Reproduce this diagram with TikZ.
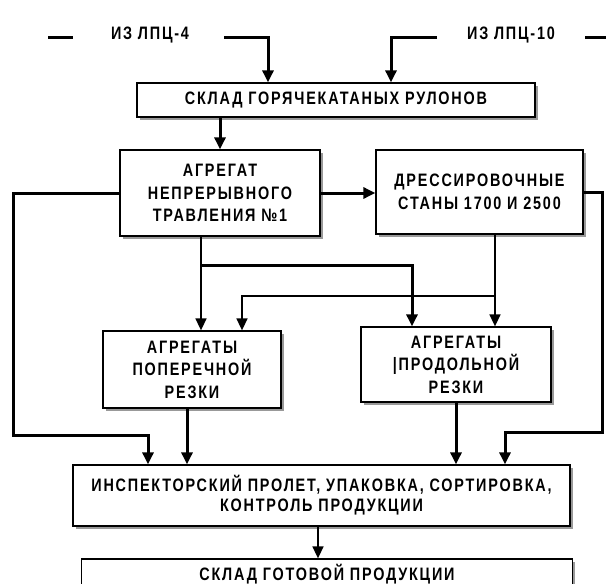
\documentclass[tikz,border=0pt]{standalone}
\usepackage{fontspec}
\newfontfamily\lbl{Liberation Sans Bold}[FakeStretch=0.8,LetterSpace=10]
\usetikzlibrary{arrows.meta,shadows}
\tikzset{
  box/.style={draw, line width=1.3pt, fill=white, inner sep=0pt, align=center,
    font=\lbl\fontsize{18}{22.5}\selectfont,
    drop shadow={shadow xshift=2.5pt, shadow yshift=-2.5pt, fill=gray!80, opacity=1}},
  lbltext/.style={inner sep=0pt, font=\lbl\fontsize{18}{22}\selectfont},
  thickln/.style={line width=3pt},
  thinln/.style={line width=1.6pt},
  arr/.style={-{Triangle[width=11pt,length=12pt]}},
}
\begin{document}
\begin{tikzpicture}[x=1pt,y=-1pt]
\useasboundingbox (0,0) rectangle (606,584);
% boxes
\node[box, minimum width=398pt, minimum height=34pt] (b1) at (336,100) {СКЛАД ГОРЯЧЕКАТАНЫХ РУЛОНОВ};
\node[box, minimum width=200pt, minimum height=86pt] (b2) at (220,193) {АГРЕГАТ\\НЕПРЕРЫВНОГО\\ТРАВЛЕНИЯ №1};
\node[box, minimum width=207pt, minimum height=84pt] (b3) at (479.5,192) {ДРЕССИРОВОЧНЫЕ\\СТАНЫ 1700 И 2500};
\node[box, minimum width=178pt, minimum height=77pt] (b4) at (192,369.5) {АГРЕГАТЫ\\ПОПЕРЕЧНОЙ\\РЕЗКИ};
\node[box, minimum width=190pt, minimum height=75pt] (b5) at (456,364.5) {АГРЕГАТЫ\\|ПРОДОЛЬНОЙ\\РЕЗКИ};
\node[box, minimum width=497pt, minimum height=61pt, font=\lbl\fontsize{18}{20}\selectfont] (b6) at (321.5,495.5) {ИНСПЕКТОРСКИЙ ПРОЛЕТ, УПАКОВКА, СОРТИРОВКА,\\КОНТРОЛЬ ПРОДУКЦИИ};
\node[box, minimum width=491pt, minimum height=44pt] (b7) at (327,581) {};
\node[lbltext] (t7) at (327,574) {СКЛАД ГОТОВОЙ ПРОДУКЦИИ};
% top labels
\node[lbltext] (i1) at (150,35) {ИЗ ЛПЦ-4};
\node[lbltext] (i2) at (511,35) {ИЗ ЛПЦ-10};
% coordinates
\coordinate (d1a) at (48,37); \coordinate (d1b) at (73,37);
\coordinate (d2a) at (585,37); \coordinate (d2b) at (606,37);
\coordinate (s1) at (224,37); \coordinate (c1) at (268,37);
\coordinate (s2) at (437,37); \coordinate (c2) at (391,37);
\coordinate (l1) at (13,435); \coordinate (l2) at (148,435);
\coordinate (r1) at (602,432); \coordinate (r2) at (505,432);
\coordinate (m1) at (201,265); \coordinate (m2) at (412,265);
\coordinate (n1) at (495,296); \coordinate (n2) at (242,296);
\coordinate (p1) at (187,440);
\coordinate (q1) at (318,540);
% connectors
\draw[thickln] (d1a) -- (d1b);
\draw[thickln] (d2a) -- (d2b);
\draw[thickln, arr] (s1) -- (c1) -- (c1 |- b1.north);
\draw[thickln, arr] (s2) -- (c2) -- (c2 |- b1.north);
\draw[thickln, arr] (b1.south -| b2.north) -- (b2.north);
\draw[thickln, arr] (b2.east) -- (b2.east -| b3.west);
\draw[thickln, arr] (b2.west) -| (l1) -- (l2) -- (l2 |- b6.north);
\draw[thickln, arr] (b3.east) -| (r1) -- (r2) -- (r2 |- b6.north);
\draw[thinln, arr] (m1 |- b2.south) -- (m1 |- b4.north);
\draw[thickln, arr] (m1) -- (m2) -- (m2 |- b5.north);
\draw[thinln, arr] (n1 |- b3.south) -- (n1 |- b5.north);
\draw[thinln, arr] (n1) -- (n2) -- (n2 |- b4.north);
\draw[thickln, arr] (p1 |- b4.south) -- (p1 |- b6.north);
\draw[thickln, arr] (b5.south) -- (b5.south |- b6.north);
\draw[thinln, arr] (q1 |- b6.south) -- (q1 |- b7.north);
\end{tikzpicture}
\end{document}
